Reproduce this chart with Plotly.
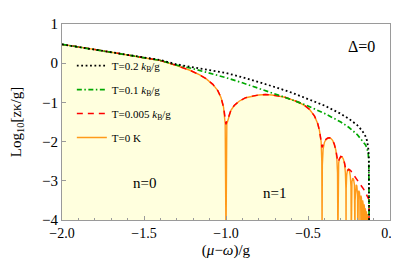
import plotly.graph_objects as go

# ---------------- data ----------------
BOTTOM = -4.6  # curves plunge below the axis floor at lobe boundaries

x_T0 = [-2.00, -1.90, -1.80, -1.70, -1.60, -1.50, -1.40, -1.30, -1.22, -1.16, -1.12, -1.08, -1.05, -1.03, -1.015, -1.005, -1.000,
        -0.995, -0.985, -0.97, -0.95, -0.92, -0.88, -0.84, -0.80, -0.76, -0.72, -0.68, -0.64, -0.60, -0.56, -0.52, -0.49, -0.46, -0.44, -0.43, -0.42, -0.416, -0.4142,
        -0.4125, -0.408, -0.40, -0.39, -0.38, -0.37, -0.36, -0.35, -0.34, -0.33, -0.324, -0.320, -0.3178,
        -0.3165, -0.313, -0.308, -0.300, -0.292, -0.284, -0.277, -0.272, -0.2690, -0.2679,
        -0.2670, -0.264, -0.259, -0.253, -0.247, -0.242, -0.238, -0.2361,
        -0.2354, -0.232, -0.227, -0.222, -0.217, -0.2145, -0.2134,
        -0.2128, -0.210, -0.206, -0.202, -0.198, -0.1963,
        -0.1958, -0.193, -0.190, -0.186, -0.1836, -0.1827,
        -0.1822, -0.179, -0.177, -0.174, -0.1716,
        -0.1712, -0.169, -0.167, -0.164, -0.1623,
        -0.1619, -0.160, -0.158, -0.156, -0.1543,
        -0.1540, -0.152, -0.1505, -0.149, -0.1474,
        -0.1471, -0.1455, -0.1440, -0.1428, -0.1414,
        -0.1411, -0.1395, -0.1385, -0.1372, -0.1361,
        -0.1358, -0.1345, -0.1335, -0.1323, -0.1313,
        -0.1311, -0.1300, -0.1290, -0.1280, -0.1270]
y_T0 = [0.48, 0.42, 0.35, 0.28, 0.21, 0.14, 0.07, -0.06, -0.18, -0.30, -0.40, -0.54, -0.70, -0.88, -1.12, -1.55, BOTTOM,
        -1.55, -1.40, -1.20, -1.08, -0.97, -0.88, -0.84, -0.81, -0.80, -0.81, -0.84, -0.87, -0.93, -0.99, -1.08, -1.18, -1.35, -1.55, -1.72, -2.00, -2.50, BOTTOM,
        -2.60, -2.20, -2.02, -1.94, -1.91, -1.90, -1.92, -1.97, -2.06, -2.22, -2.45, -2.80, BOTTOM,
        -2.90, -2.55, -2.43, -2.38, -2.39, -2.45, -2.57, -2.80, -3.20, BOTTOM,
        -3.20, -2.85, -2.72, -2.70, -2.75, -2.88, -3.15, BOTTOM,
        -3.35, -3.02, -2.93, -2.96, -3.10, -3.40, BOTTOM,
        -3.50, -3.17, -3.10, -3.13, -3.35, BOTTOM,
        -3.60, -3.30, -3.25, -3.30, -3.50, BOTTOM,
        -3.70, -3.42, -3.38, -3.45, BOTTOM,
        -3.80, -3.53, -3.50, -3.58, BOTTOM,
        -3.85, -3.62, -3.60, -3.68, BOTTOM,
        -3.90, -3.72, -3.70, -3.78, BOTTOM,
        -3.95, -3.79, -3.78, -3.85, BOTTOM,
        -4.00, -3.86, -3.85, -3.92, BOTTOM,
        -4.05, -3.93, -3.92, -3.98, BOTTOM,
        -4.10, -3.98, -3.97, -4.02, BOTTOM]

x_T005 = [-2.00, -1.90, -1.80, -1.70, -1.60, -1.50, -1.40, -1.30, -1.22, -1.16, -1.12, -1.08, -1.05, -1.03, -1.015, -1.005, -1.000,
          -0.995, -0.985, -0.97, -0.95, -0.92, -0.88, -0.84, -0.80, -0.76, -0.72, -0.68, -0.64, -0.60, -0.56, -0.52, -0.49, -0.46, -0.44, -0.43, -0.42, -0.4142,
          -0.41, -0.40, -0.39, -0.38, -0.37, -0.36, -0.35, -0.34, -0.33, -0.3178,
          -0.313, -0.308, -0.300, -0.292, -0.284, -0.277, -0.2679,
          -0.26, -0.25, -0.24, -0.22, -0.20, -0.18, -0.16, -0.14, -0.128, -0.127]
y_T005 = [0.48, 0.42, 0.35, 0.28, 0.21, 0.14, 0.07, -0.06, -0.18, -0.30, -0.40, -0.54, -0.70, -0.88, -1.12, -1.40, -1.56,
          -1.45, -1.38, -1.20, -1.08, -0.97, -0.88, -0.84, -0.81, -0.80, -0.81, -0.84, -0.87, -0.93, -0.99, -1.08, -1.18, -1.35, -1.55, -1.72, -1.98, -2.15,
          -2.10, -2.02, -1.94, -1.91, -1.90, -1.92, -1.97, -2.06, -2.22, -2.52,
          -2.48, -2.43, -2.38, -2.39, -2.45, -2.55, -2.75,
          -2.74, -2.71, -2.74, -2.85, -2.98, -3.10, -3.22, -3.36, -3.48, BOTTOM]

x_T01 = [-2.00, -1.80, -1.60, -1.40, -1.30, -1.20, -1.10, -1.00, -0.90, -0.80, -0.70, -0.60, -0.50, -0.40, -0.30, -0.25, -0.20, -0.17, -0.15, -0.14, -0.133, -0.129, -0.127]
y_T01 = [0.48, 0.35, 0.21, 0.07, -0.05, -0.14, -0.25, -0.37, -0.50, -0.64, -0.78, -0.93, -1.09, -1.28, -1.50, -1.64, -1.82, -1.96, -2.08, -2.17, -2.30, -2.50, BOTTOM]

x_T02 = [-2.00, -1.80, -1.60, -1.40, -1.30, -1.20, -1.10, -1.00, -0.90, -0.80, -0.70, -0.60, -0.50, -0.40, -0.30, -0.25, -0.20, -0.17, -0.15, -0.14, -0.133, -0.129, -0.127]
y_T02 = [0.48, 0.35, 0.21, 0.08, -0.03, -0.10, -0.17, -0.25, -0.36, -0.48, -0.61, -0.75, -0.91, -1.08, -1.29, -1.42, -1.58, -1.72, -1.86, -1.98, -2.15, -2.40, BOTTOM]

legend_names = ["T=0.2 <i>k</i><sub>B</sub>/g", "T=0.1 <i>k</i><sub>B</sub>/g",
                "T=0.005 <i>k</i><sub>B</sub>/g", "T=0 K"]
x_ticks = [-2.0, -1.5, -1.0, -0.5, 0.0]
y_ticks = [1, 0, -1, -2, -3, -4]

# ---------------- figure ----------------
SERIF = "Liberation Serif"
fig = go.Figure()

# shaded region under the T=0 curve
fig.add_trace(go.Scatter(x=[x_T0[0], x_T0[-1]], y=[BOTTOM, BOTTOM], mode="lines",
                         line=dict(width=0), showlegend=False, hoverinfo="skip"))
fig.add_trace(go.Scatter(x=x_T0, y=y_T0, mode="lines", fill="tonexty",
                         fillcolor="rgb(255,255,222)", line=dict(width=0),
                         showlegend=False, hoverinfo="skip"))

fig.add_trace(go.Scatter(x=x_T0, y=y_T0, mode="lines", name=legend_names[3],
                         line=dict(color="#FF9A1A", width=1.4), legendrank=4, legendgroup="d"))
fig.add_trace(go.Scatter(x=x_T005, y=y_T005, mode="lines", name=legend_names[2],
                         line=dict(color="#FF0000", width=1.5, dash="6px,5px"), legendrank=3, legendgroup="c"))
fig.add_trace(go.Scatter(x=x_T01, y=y_T01, mode="lines", name=legend_names[1],
                         line=dict(color="#00A800", width=1.7, dash="5px,2.5px,1.5px,2.5px"), legendrank=2, legendgroup="b"))
fig.add_trace(go.Scatter(x=x_T02, y=y_T02, mode="lines", name=legend_names[0],
                         line=dict(color="#000000", width=1.8, dash="1.8px,2.6px"), legendrank=1, legendgroup="a"))

fig.update_layout(
    width=399, height=262,
    margin=dict(l=53, r=12, t=8, b=50),
    paper_bgcolor="white", plot_bgcolor="white",
    font=dict(family=SERIF, size=14, color="black"),
    legend=dict(x=0.03, y=0.862, xanchor="left", yanchor="top",
                bgcolor="rgba(0,0,0,0)", font=dict(family=SERIF, size=11),
                tracegroupgap=5, traceorder="grouped"),
    xaxis=dict(range=[-2, 0], tickvals=x_ticks, ticktext=["\u22122.0", "\u22121.5", "\u22121.0", "\u22120.5", "0.0"],
               ticks="inside", ticklen=4, tickcolor="#9a9a9a", showgrid=False, zeroline=False,
               showline=True, linecolor="#9a9a9a", linewidth=1, mirror=True,
               minor=dict(dtick=0.1, ticks="inside", ticklen=2, tickcolor="#9a9a9a"),
               tickfont=dict(size=14), title=dict(text="(<i>\u03bc</i>\u2212<i>\u03c9</i>)/g", font=dict(size=15), standoff=4)),
    yaxis=dict(range=[-4, 1], tickvals=y_ticks, ticktext=["1", "0", "\u22121", "\u22122", "\u22123", "\u22124"],
               ticks="inside", ticklen=4, tickcolor="#9a9a9a", showgrid=False, zeroline=False,
               showline=True, linecolor="#9a9a9a", linewidth=1, mirror=True,
               tickfont=dict(size=15), title=dict(text="Log<sub>10</sub>[z\u03ba/g]", font=dict(size=15), standoff=16)),
    annotations=[
        dict(x=-0.174, y=0.436, xref="x", yref="y", text="\u0394=0", showarrow=False, font=dict(size=16)),
        dict(x=-1.497, y=-3.06, xref="x", yref="y", text="n=0", showarrow=False, font=dict(size=15)),
        dict(x=-0.707, y=-3.30, xref="x", yref="y", text="n=1", showarrow=False, font=dict(size=15)),
    ],
)

fig.write_html("out.html")
